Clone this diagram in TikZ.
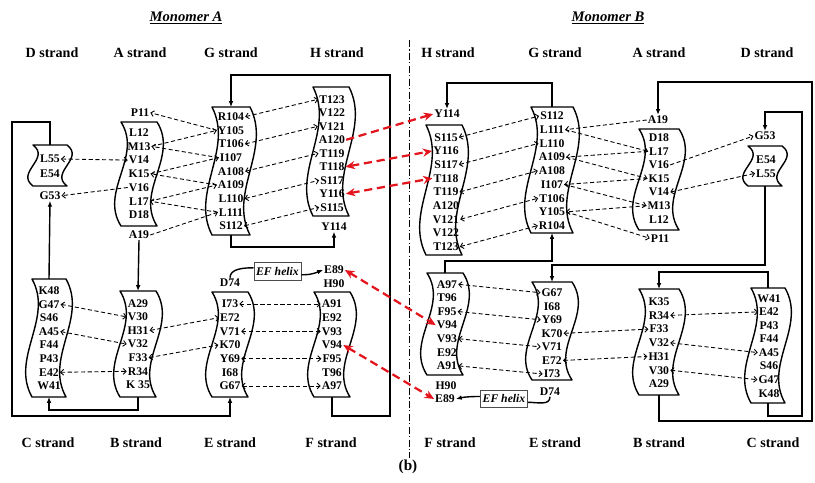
\documentclass[tikz,border=0pt]{standalone}
\usepackage{fontspec}
\setmainfont{Liberation Serif}
\usetikzlibrary{arrows.meta, calc}
\definecolor{bondred}{HTML}{E3141C}

\tikzset{
  res/.style={font=\fontsize{10}{10}\selectfont\bfseries, inner sep=0.8pt},
  strandlbl/.style={font=\fontsize{12}{12}\selectfont\bfseries},
  monotitle/.style={font=\fontsize{12.5}{13}\selectfont\bfseries\itshape},
  helix/.style={draw=black!70, line width=0.6pt, font=\fontsize{10}{11}\selectfont\bfseries\itshape,
    minimum width=1.41cm, minimum height=0.52cm, inner sep=1pt},
  sheet/.style={line width=1.2pt, line join=round},
  wire/.style={line width=1.2pt},
  link/.style={line width=1.2pt, -{Latex[length=5pt,width=4pt]}},
  hb/.style={line width=0.75pt, dash pattern=on 3.5pt off 2.2pt},
  redbond/.style={bondred, line width=1.9pt, dash pattern=on 7pt off 4pt, >={Stealth[length=8pt,width=7pt]}}
}

% wavy strand box: name, centre x, top, bottom, half width, bend
\newcommand{\strandbox}[6]{%
  \draw[sheet] ({#2-#5},#3) -- ({#2+#5},#3)
    .. controls ({#2+#5+(#6)},{#3+(#4-#3)/3}) and ({#2+#5-(#6)},{#3+2*(#4-#3)/3}) .. ({#2+#5},#4)
    -- ({#2-#5},#4)
    .. controls ({#2-#5-(#6)},{#3+2*(#4-#3)/3}) and ({#2-#5+(#6)},{#3+(#4-#3)/3}) .. ({#2-#5},#3) -- cycle;
  \coordinate (#1-t) at (#2,#3);
  \coordinate (#1-b) at (#2,#4);}

\begin{document}
\begin{tikzpicture}[x=0.03cm, y=-0.03cm, >={Straight Barb[length=2.6pt,width=5pt]}]
\useasboundingbox (0,0) rectangle (815,483);

% titles and strand names
\node[monotitle] (titA) at (186,18) {\underline{Monomer A}};
\node[monotitle] (titB) at (608,18) {\underline{Monomer B}};
\foreach \n/\x/\s in {aDs/52/D, aAs/140/A, aGs/231/G, aHs/337/H, bHs/448/H, bGs/555/G, bAs/659/A, bDs/767/D}
  \node[strandlbl] (\n) at (\x,53) {\s\ strand};
\foreach \n/\x/\s in {aCs/48/C, aBs/136/B, aEs/230/E, aFs/331/F, bFs/450/F, bEs/555/E, bBs/659/B, bCs/773/C}
  \node[strandlbl] (\n) at (\x,443) {\s\ strand};
\node[font=\fontsize{13}{14}\selectfont\bfseries] (panel) at (408,467) {(b)};
\draw[line width=0.7pt, dash pattern=on 6pt off 2pt on 1pt off 2pt] (409,40) -- (409,458);

% ---- monomer A ----
\node[res] (aL55) at (50,159) {L55};
\node[res] (aE54) at (50,173.3) {E54};
\node[res] (aG53) at (50,195.7) {G53};
\strandbox{aD}{50}{145}{186}{17}{18}

\node[res] (aP11) at (140,112.7) {P11};
\foreach \r [count=\i from 0] in {L12,M13,V14,K15,V16,L17,D18}
  \node[res] (a\r) at (139,{132.7+13.7*\i}) {\r};
\node[res] (aA19) at (139,235) {A19};
\strandbox{aA}{139}{122}{226}{18}{22}

\foreach \r [count=\i from 0] in {R104,Y105,T106,I107,A108,A109,L110,L111,S112}
  \node[res] (a\r) at (231,{116.7+13.66*\i}) {\r};
\strandbox{aG}{231}{107}{235}{19}{22}

\foreach \r [count=\i from 0] in {T123,V122,V121,A120,T119,T118,S117,Y116,S115}
  \node[res] (a\r) at (332,{99.3+13.5*\i}) {\r};
\node[res] (aY114) at (334,226.7) {Y114};
\strandbox{aH}{331}{87}{216}{18}{22}

\foreach \r [count=\i from 0] in {K48,G47,S46,A45,F44,P43,E42,W41}
  \node[res] (a\r) at (49,{290.7+13.6*\i}) {\r};
\strandbox{aC}{49}{279}{397}{17}{22}

\foreach \r [count=\i from 0] in {A29,V30,H31,V32,F33,R34}
  \node[res] (a\r) at (138,{303.3+13.6*\i}) {\r};
\node[res] (aK35) at (138,385) {K 35};
\strandbox{aB}{138}{291}{397}{18}{22}

\node[res] (aD74) at (230,282.7) {D74};
\foreach \r [count=\i from 0] in {I73,E72,V71,K70,Y69,I68,G67}
  \node[res] (a\r) at (230,{304+13.67*\i}) {\r};
\strandbox{aE}{230}{292}{397}{18}{22}

\node[res] (aE89) at (334,270) {E89};
\node[res] (aH90) at (334,283.3) {H90};
\foreach \r [count=\i from 0] in {A91,E92,V93,V94,F95,T96,A97}
  \node[res] (a\r) at (332,{304+13.67*\i}) {\r};
\strandbox{aF}{332}{292}{397}{18}{22}

\node[helix] (aEF) at (277.5,271.3) {EF helix};

% strand order, monomer A
\draw[link] (aA19.south) -- (aB-t);
\draw[link] (aB-b) -- ++(0,13) -| (aC-b);
\draw[link] (aC-t) -- (aG53.south);
\draw[link] (aD-t) -- ++(0,-23) -- ++(-38,0) -- ++(0,294) -| (aE-b);
\draw[wire] (aD74.north) .. controls +(0,-9) and +(-10,0) .. ([yshift=3pt]aEF.west);
\draw[link] ([yshift=-3pt]aEF.east) .. controls +(10,0) and +(-8,3) .. (aE89.west);
\draw[link] (aF-b) -- ++(0,19) -- ++(58,0) -- ++(0,-341) -| (aG-t);
\draw[link] (aG-b) -- ++(0,12) -| (aY114.south);

% H-bonds, monomer A
\draw[hb,<->] (aL55.east) -- (aV14.west);
\draw[hb,->] (aV16.west) -- (aG53.east);
\draw[hb,->] (aA19.east) -- (aL111.west);
\draw[hb,->] (aL111.west) -- (aL17.east);
\draw[hb,->] (aL17.east) -- (aA109.west);
\draw[hb,->] (aA109.west) -- (aK15.east);
\draw[hb,->] (aK15.east) -- (aI107.west);
\draw[hb,->] (aI107.west) -- (aM13.east);
\draw[hb,->] (aM13.east) -- (aY105.west);
\draw[hb,->] (aY105.west) -- (aP11.east);
\foreach \p/\q in {R104/T123, T106/V121, A108/T119, L110/S117, S112/S115,
                   G47/V30, A45/V32, E42/R34, H31/E72, F33/K70,
                   I73/A91, V71/V93, Y69/F95, G67/A97}
  \draw[hb,<->] (a\p.east) -- (a\q.west);

% ---- monomer B ----
\node[res] (bY114) at (447,114) {Y114};
\foreach \r [count=\i from 0] in {S115,Y116,S117,T118,T119,A120,V121,V122,T123}
  \node[res] (b\r) at (446,{137.3+13.67*\i}) {\r};
\strandbox{bH}{444}{125}{255}{18}{22}

\foreach \r [count=\i from 0] in {S112,L111,L110,A109,A108,I107,T106,Y105,R104}
  \node[res] (b\r) at (552,{116+13.7*\i}) {\r};
\strandbox{bG}{552}{107}{233}{21}{22}

\node[res] (bA19) at (658,120) {A19};
\foreach \r [count=\i from 0] in {D18,L17,V16,K15,V14,M13,L12}
  \node[res] (b\r) at (659,{137.7+13.6*\i}) {\r};
\node[res] (bP11) at (660,238.3) {P11};
\strandbox{bA}{659}{129}{230}{20}{22}

\node[res] (bG53) at (765,136) {G53};
\node[res] (bE54) at (766,159.3) {E54};
\node[res] (bL55) at (766,173.3) {L55};
\strandbox{bD}{765}{146}{186}{17}{18}

\foreach \r [count=\i from 0] in {A97,T96,F95,V94,V93,E92,A91}
  \node[res] (b\r) at (447,{284.3+13.6*\i}) {\r};
\node[res] (bH90) at (446,385.7) {H90};
\node[res] (bE89) at (445,399) {E89};
\strandbox{bF}{445}{273}{375}{18}{22}

\foreach \r [count=\i from 0] in {G67,I68,Y69,K70,V71,E72,I73}
  \node[res] (b\r) at (552,{292.7+13.55*\i}) {\r};
\node[res] (bD74) at (550,391.7) {D74};
\strandbox{bE}{552}{282}{380}{20}{22}

\foreach \r [count=\i from 0] in {K35,R34,F33,V32,H31,V30,A29}
  \node[res] (b\r) at (659,{301.7+13.7*\i}) {\r};
\strandbox{bB}{659}{289}{395}{20}{22}

\foreach \r [count=\i from 0] in {W41,E42,P43,F44,A45,S46,G47,K48}
  \node[res] (b\r) at (769,{298.3+13.57*\i}) {\r};
\strandbox{bC}{768}{288}{403}{17}{22}

\node[helix] (bEF) at (504,398.8) {EF helix};

% strand order, monomer B
\draw[link] (bG-t) -- ++(0,-24) -| (bY114.north);
\draw[link] (bF-t) -- ++(0,-12) -| (bG-b);
\draw[link] (bD-b) -- ++(0,79) -| (bE-t);
\draw[wire] (bD74.south) .. controls +(0,9) and +(10,0) .. ([yshift=-3pt]bEF.east);
\draw[link] ([yshift=2pt]bEF.west) .. controls +(-8,0) and +(8,-2) .. (bE89.east);
\draw[link] (bB-b) -- ++(0,26) -- ++(153,0) -- ++(0,-339) -| (bA19.north);
\draw[link] (bC-t) -- ++(0,-16) -| (bB-t);
\draw[link] (bC-b) -- ++(0,13) -- ++(34,0) -- ++(0,-304) -| (bG53.north);

% H-bonds, monomer B
\draw[hb,<->] (bV14.east) -- (bL55.west);
\draw[hb,->] (bV16.east) -- (bG53.west);
\draw[hb,->] (bA19.west) -- (bL111.east);
\draw[hb,->] (bL111.east) -- (bL17.west);
\draw[hb,->] (bL17.west) -- (bA109.east);
\draw[hb,->] (bA109.east) -- (bK15.west);
\draw[hb,->] (bK15.west) -- (bI107.east);
\draw[hb,->] (bI107.east) -- (bM13.west);
\draw[hb,->] (bM13.west) -- (bY105.east);
\draw[hb,->] (bY105.east) -- (bP11.west);
\foreach \p/\q in {S115/S112, S117/L110, T119/A108, V121/T106, T123/R104,
                   A97/G67, F95/Y69, V93/V71, A91/I73, K70/F33, E72/H31,
                   R34/E42, V32/A45, V30/G47}
  \draw[hb,<->] (b\p.east) -- (b\q.west);

% inter-monomer contacts
\draw[redbond,->] (aA120.east) -- (bY114.west);
\draw[redbond,<->] (aT118.east) -- (bY116.west);
\draw[redbond,<->] (aY116.east) -- (bT118.west);
\draw[redbond,<->] (aE89.east) -- (bV94.west);
\draw[redbond,<->] (aV94.east) -- (bE89.west);
\end{tikzpicture}
\end{document}
